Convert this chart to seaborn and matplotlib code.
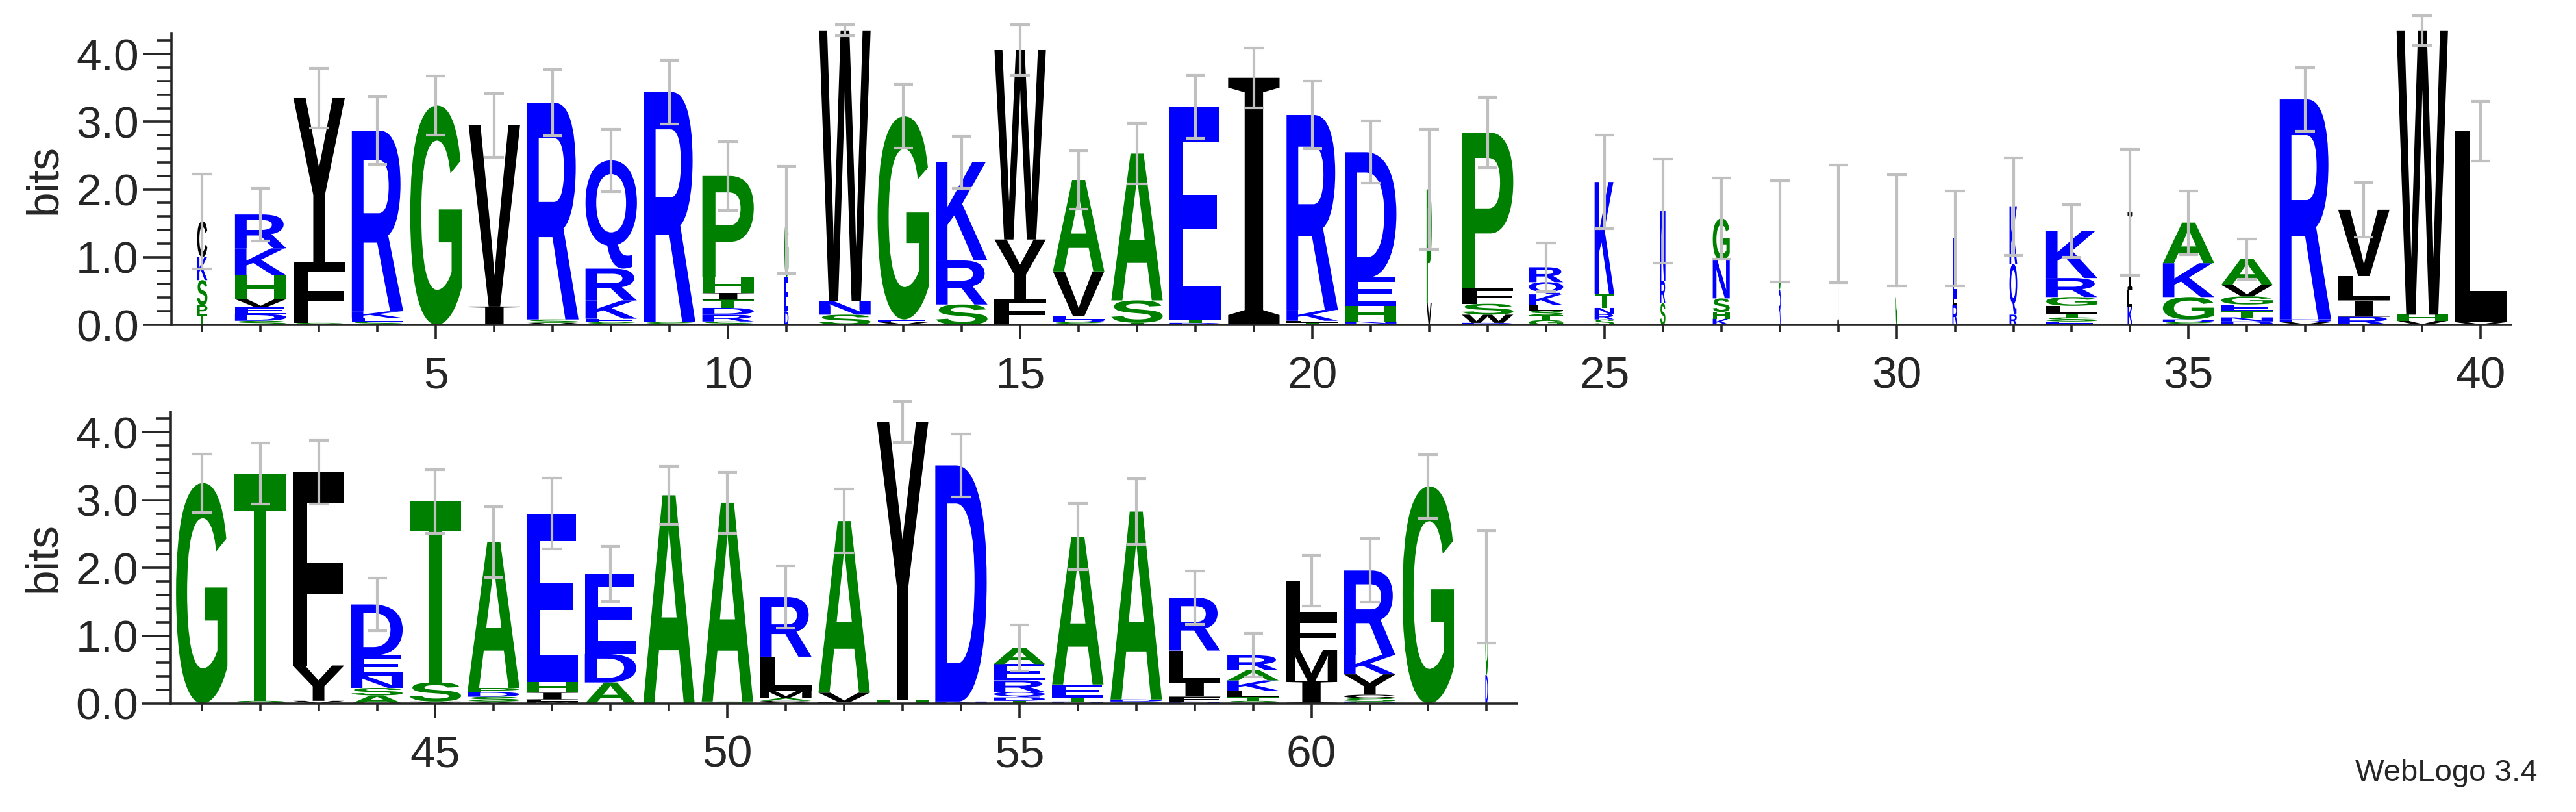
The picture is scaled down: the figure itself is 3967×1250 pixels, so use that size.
import matplotlib
matplotlib.use("Agg")
import matplotlib.pyplot as plt
import seaborn as sns
from matplotlib.textpath import TextPath
from matplotlib.font_manager import FontProperties
from matplotlib.patches import PathPatch
from matplotlib.transforms import Affine2D
from matplotlib.ticker import MultipleLocator, FormatStrFormatter

# ---- data: letters listed bottom-to-top, heights in bits ----
positions = list(range(1, 64))
stack_letters = [
    "TPSKC", "SDEVHKR", "SFY", "SEKR", "G", "IV", "VSR", "SEKRQ", "SR", "SRDTIHP",
    "DEG", "SNW", "VEG", "SRK", "FYW", "SDEVA", "TSA", "DTE", "I", "TLKR",
    "QNHED", "VP", "DWSFP", "GTSLKQR", "SRNTK", "SRN", "KHSNG", "RG", "I", "S",
    "RLE", "RQK", "ESTLGRK", "KLI", "SDGKA", "DNTEGVA", "VDR", "RILV", "VHW", "VL",
    "G", "ST", "VYF", "ASNED", "VST", "VSDPA", "MLIHE", "ADE", "A", "SA",
    "VCAMLR", "LVA", "HY", "ND", "TDQREA", "DTEA", "SDA", "DFILR", "STLKAR", "IMFL",
    "DSCYKR", "G", "DG",
]
stack_heights = [
    [0.15, 0.14, 0.37, 0.34, 0.53], [0.06, 0.1, 0.1, 0.12, 0.35, 0.4, 0.5], [0.03, 0.89, 2.43],
    [0.05, 0.05, 0.1, 2.67], [3.24], [0.27, 2.68], [0.03, 0.05, 3.2], [0.04, 0.05, 0.27, 0.47, 1.6],
    [0.04, 3.4], [0.05, 0.1, 0.1, 0.12, 0.1, 0.23, 1.5],
    [0.2, 0.5, 0.85], [0.15, 0.2, 4.0], [0.04, 0.04, 3.0], [0.3, 0.65, 1.45], [0.38, 0.88, 2.8],
    [0.04, 0.04, 0.05, 0.66, 1.35], [0.03, 0.33, 2.17], [0.03, 0.04, 3.15], [3.65], [0.03, 0.03, 0.16, 2.88],
    [0.02, 0.03, 0.23, 0.42, 1.85], [0.32, 1.68], [0.03, 0.12, 0.16, 0.23, 2.3],
    [0.07, 0.07, 0.07, 0.08, 0.16, 0.18, 0.22], [0.08, 0.08, 0.09, 0.21, 1.65], [0.32, 0.33, 1.03],
    [0.09, 0.1, 0.2, 0.56, 0.62], [0.52, 0.86], [1.49], [1.4],
    [0.3, 0.08, 0.9], [0.15, 0.75, 0.85], [0.05, 0.06, 0.05, 0.12, 0.13, 0.28, 0.7], [0.27, 0.24, 1.15],
    [0.04, 0.04, 0.33, 0.5, 0.6], [0.05, 0.06, 0.09, 0.1, 0.12, 0.17, 0.38], [0.04, 0.04, 3.25],
    [0.12, 0.24, 0.36, 0.98], [0.06, 0.09, 4.2], [0.04, 2.82],
    [3.25], [0.04, 3.35], [0.04, 0.52, 2.85], [0.12, 0.11, 0.18, 0.3, 0.75], [0.03, 0.28, 2.67],
    [0.03, 0.07, 0.07, 0.06, 2.15], [0.03, 0.03, 0.1, 0.16, 2.48], [0.31, 0.42, 1.18], [3.07], [0.03, 2.93],
    [0.02, 0.02, 0.04, 0.11, 0.5, 0.88], [0.02, 0.14, 2.53], [0.05, 4.1], [0.03, 3.48],
    [0.04, 0.05, 0.08, 0.17, 0.24, 0.24], [0.03, 0.06, 0.19, 2.18], [0.03, 0.03, 2.77],
    [0.03, 0.07, 0.21, 0.47, 0.78], [0.04, 0.06, 0.09, 0.15, 0.15, 0.22], [0.33, 0.46, 0.47, 0.55],
    [0.03, 0.05, 0.05, 0.3, 0.28, 1.25], [3.2], [0.42, 1.3],
]
# relative stack width (fraction of occupied sequences)
stack_widths = {1: 0.2, 11: 0.08, 22: 0.1, 24: 0.67, 25: 0.38, 26: 0.1, 27: 0.33, 28: 0.04,
                29: 0.03, 30: 0.03, 31: 0.1, 32: 0.15, 34: 0.1, 63: 0.05}
error_half = [
    0.70, 0.39, 0.44, 0.50, 0.44, 0.47, 0.49, 0.46, 0.47, 0.51,
    0.79, 0.08, 0.47, 0.38, 0.37, 0.43, 0.45, 0.47, 0.44, 0.50,
    0.46, 0.89, 0.52, 0.36, 0.69, 0.77, 0.60, 0.75, 0.87, 0.82,
    0.70, 0.72, 0.39, 0.93, 0.47, 0.30, 0.47, 0.40, 0.22, 0.44,
    0.43, 0.45, 0.47, 0.39, 0.47, 0.52, 0.52, 0.41, 0.43, 0.45,
    0.46, 0.47, 0.30, 0.46, 0.34, 0.49, 0.48, 0.39, 0.32, 0.37,
    0.47, 0.47, 0.83,
]

colors = {}
for c in "RKDENQ":
    colors[c] = "#0000FF"
for c in "SGHTAP":
    colors[c] = "#008000"
for c in "YVMCLFIW":
    colors[c] = "#000000"

sns.set_style("ticks")
plt.rcParams["font.family"] = ["Liberation Sans", "DejaVu Sans"]

fp_main = FontProperties(family="Liberation Sans", weight="bold")
fp_i = FontProperties(family="Liberation Serif", weight="normal")


def draw_letter(ax, ch, x, y, w, h):
    tp = TextPath((0, 0), ch, size=100, prop=fp_i if ch == "I" else fp_main)
    bb = tp.get_extents()
    tr = (Affine2D().translate(-bb.x0, -bb.y0)
          .scale(w / bb.width, h / bb.height).translate(x - w / 2, y))
    ax.add_patch(PathPatch(tr.transform_path(tp), facecolor=colors[ch],
                           edgecolor="none", clip_on=False, zorder=2))


fig = plt.figure(figsize=(39.67, 12.5), dpi=100)
ax1 = fig.add_axes([0.0665, 0.6, 0.9083, 0.3584])
ax2 = fig.add_axes([0.0663, 0.1336, 0.5226, 0.3592])

FULL_W = 0.88
for ax, (p0, p1) in ((ax1, (1, 40)), (ax2, (41, 63))):
    for p in range(p0, p1 + 1):
        i = p - 1
        w = FULL_W * stack_widths.get(p, 1.0)
        y = 0.0
        for ch, h in zip(stack_letters[i], stack_heights[i]):
            draw_letter(ax, ch, p, y, w, h)
            y += h
        ax.errorbar([p], [y], yerr=[error_half[i]], fmt="none", ecolor="#C0C0C0",
                    elinewidth=3, capsize=11, capthick=3, zorder=3, clip_on=False)
    ax.set_xlim(p0 - 0.53, p1 + 0.52)
    ax.set_ylim(0, 4.30)
    sns.despine(ax=ax)
    for s in ("left", "bottom"):
        ax.spines[s].set_linewidth(2.6)
    ax.xaxis.set_major_locator(MultipleLocator(5))
    ax.xaxis.set_minor_locator(MultipleLocator(1))
    ax.yaxis.set_major_locator(MultipleLocator(1))
    ax.yaxis.set_minor_locator(MultipleLocator(0.2))
    ax.yaxis.set_major_formatter(FormatStrFormatter("%.1f"))
    ax.tick_params(axis="y", which="major", length=32, width=2.6, labelsize=50, pad=4)
    ax.tick_params(axis="y", which="minor", length=16, width=2.6)
    ax.tick_params(axis="x", which="major", length=16, width=2.6, labelsize=50, pad=18)
    ax.tick_params(axis="x", which="minor", length=8, width=2.6)
    ax.set_ylabel("bits", fontsize=50, labelpad=12)

ax2.set_xticks([45, 50, 55, 60])

fig.text(0.985, 0.03, "WebLogo 3.4", ha="right", va="bottom", fontsize=34)
fig.savefig("out.png", dpi=100)
